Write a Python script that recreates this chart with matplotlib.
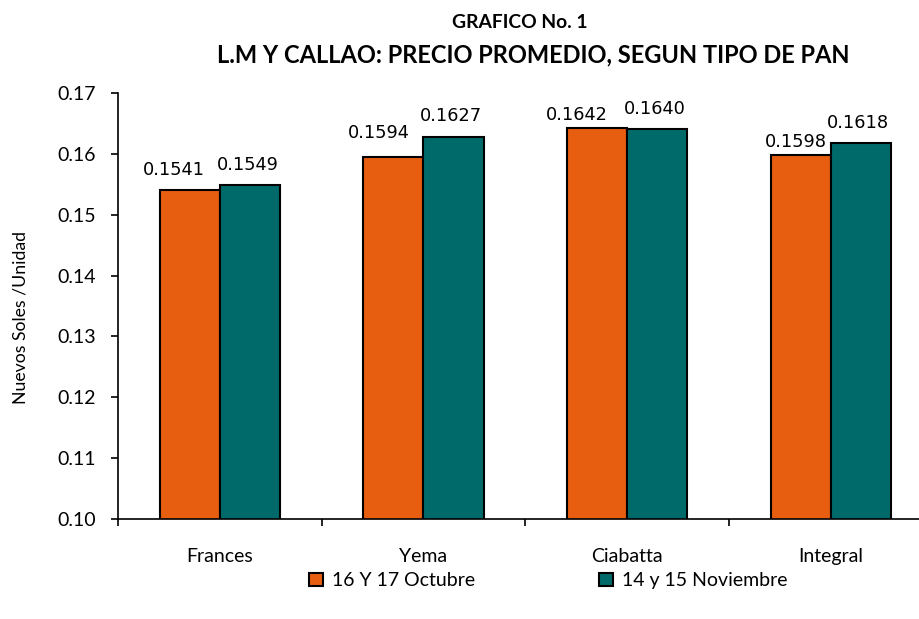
import numpy as np
import matplotlib.pyplot as plt

# datos del grafico
tipos = ["Frances", "Yema", "Ciabatta", "Integral"]
octubre = [0.1541, 0.1594, 0.1642, 0.1598]
noviembre = [0.1549, 0.1627, 0.1640, 0.1618]
series = ["16 Y 17 Octubre", "14 y 15 Noviembre"]
yticks = [0.10, 0.11, 0.12, 0.13, 0.14, 0.15, 0.16, 0.17]

# desplazamiento de las etiquetas (px) como en el original de Excel
dx_oct = [-16, -15, -20, -5]
dy_oct = [15, 19, 8, 8]
dx_nov = [-2, -3, -2, -3]
dy_nov = [15, 16, 15, 15]

col_oct = "#E85E11"
col_nov = "#006A6A"

plt.rcParams['font.family'] = ['Lato', 'DejaVu Sans']

fig = plt.figure(figsize=(9.2, 6.19), dpi=100)
ax = fig.add_axes([0.128, 0.1616, 0.886, 0.6882])

x = np.arange(len(tipos))
w = 0.295
b1 = ax.bar(x - w / 2, octubre, w, color=col_oct, edgecolor="black", linewidth=1.5, label=series[0])
b2 = ax.bar(x + w / 2, noviembre, w, color=col_nov, edgecolor="black", linewidth=1.5, label=series[1])

for bars, dxs, dys in ((b1, dx_oct, dy_oct), (b2, dx_nov, dy_nov)):
    for r, dx, dy in zip(bars, dxs, dys):
        ax.annotate("%.4f" % r.get_height(), (r.get_x() + r.get_width() / 2, r.get_height()),
                    xytext=(dx * 0.72, dy * 0.72), textcoords="offset points",
                    ha="center", va="baseline", fontsize=12.8, family="DejaVu Sans")

ax.set_ylim(0.10, 0.17)
ax.set_xlim(-0.5, 3.5)
ax.set_yticks(yticks)
ax.set_yticklabels(["%.2f" % v for v in yticks], fontsize=14)
ax.set_xticks(x)
ax.set_xticklabels(tipos, fontsize=14)
ax.tick_params(axis="x", which="major", length=0, pad=21)
ax.set_xticks(np.arange(-0.5, 4, 1), minor=True)
ax.tick_params(axis="x", which="minor", length=5, width=1.2, direction="out")
ax.tick_params(axis="y", length=5, width=1.2, direction="out", pad=10.5)

for s in ("top", "right"):
    ax.spines[s].set_visible(False)
ax.spines["left"].set_linewidth(1.2)
ax.spines["bottom"].set_linewidth(1.2)

ax.set_ylabel("Nuevos Soles /Unidad", fontsize=12.7)
ax.yaxis.set_label_coords(-0.11, 0.474)

fig.text(0.565, 0.964, "GRAFICO No. 1", ha="center", va="center", fontsize=13.9, fontweight="bold")
fig.text(0.580, 0.911, "L.M Y CALLAO: PRECIO PROMEDIO, SEGUN TIPO DE PAN",
         ha="center", va="center", fontsize=17, fontweight="bold")

leg = fig.legend(handles=[b1, b2], labels=series, loc="center", bbox_to_anchor=(0.596, 0.062),
                 ncol=2, frameon=False, fontsize=14, handlelength=0.7, handleheight=0.7,
                 columnspacing=6.4, handletextpad=0.45)

plt.savefig("out.png", dpi=100)
